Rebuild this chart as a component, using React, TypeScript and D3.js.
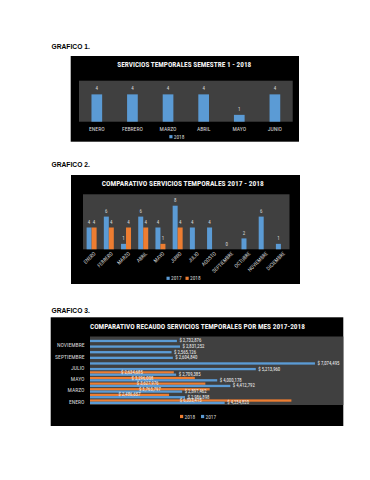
import React from 'react';
import * as d3 from 'd3';

const MONTHS = ['ENERO', 'FEBRERO', 'MARZO', 'ABRIL', 'MAYO', 'JUNIO', 'JULIO', 'AGOSTO', 'SEPTIEMBRE', 'OCTUBRE', 'NOVIEMBRE', 'DICIEMBRE'];
const SEMESTER_MONTHS = ['ENERO', 'FEBRERO', 'MARZO', 'ABRIL', 'MAYO', 'JUNIO'];

// grafico 1
const SEMESTER_2018 = [4, 4, 4, 4, 1, 4];

// grafico 2
const SERVICES_2017 = [4, 6, 1, 6, 4, 8, 4, 4, 0, 2, 6, 1];
const SERVICES_2018 = [4, 4, 4, 4, 1, 4, null, null, null, null, null, null];

// grafico 3
const RECAUDO_2017 = [4234820, 2986898, 2897462, 4412792, 4000178, 2709385, 5213960, 7074495, 2604840, 2565126, 2831252, 2732876];
const RECAUDO_2018 = [6333415, 2486657, 3763797, 3627976, 3296008, 2634685, null, null, null, null, null, null];

const BLUE = '#5b9bd5';
const ORANGE = '#ed7d31';
const PLOT_BG = '#404040';
const TEXT = '#d9d9d9';
const FONT = "'Liberation Sans Narrow', 'Roboto Condensed', Roboto, sans-serif";
const HEAD_FONT = "'Liberation Sans', Arial, sans-serif";

function Header({ y, label }: { y: number; label: string }) {
  return (
    <text x={51.5} y={y} fontFamily={HEAD_FONT} fontWeight="bold" fontSize={6.7} fill="#000">
      {label}
    </text>
  );
}

function Title({ x, y, width, label }: { x: number; y: number; width: number; label: string }) {
  return (
    <text x={x} y={y} textAnchor="middle" dominantBaseline="central" fontFamily={FONT} fontWeight="bold"
      fontSize={6.4} fill="#f2f2f2" textLength={width} lengthAdjust="spacingAndGlyphs">
      {label}
    </text>
  );
}

function LegendItem({ x, y, color, label }: { x: number; y: number; color: string; label: string }) {
  return (
    <g>
      <rect x={x} y={y - 1.6} width={3.2} height={3.2} fill={color} />
      <text x={x + 4.5} y={y} dominantBaseline="central" fontFamily={FONT} fontSize={5.4} fill={TEXT}>{label}</text>
    </g>
  );
}

function Chart1() {
  const x = d3.scaleBand<string>().domain(SEMESTER_MONTHS).range([79, 292.7]).paddingInner(0.7).paddingOuter(0.35);
  const y = d3.scaleLinear().domain([0, 6]).range([121.7, 80.7]);
  return (
    <g>
      <rect x={70.7} y={56} width={228.3} height={85.7} fill="#000" />
      <Title x={184.3} y={65} width={134} label="SERVICIOS TEMPORALES  SEMESTRE 1 - 2018" />
      <rect x={79} y={80.7} width={213.7} height={41} fill={PLOT_BG} />
      {SEMESTER_MONTHS.map((m, i) => (
        <g key={m}>
          <rect x={x(m)} y={y(SEMESTER_2018[i])} width={x.bandwidth()} height={y(0) - y(SEMESTER_2018[i])} fill={BLUE} />
          <text x={x(m)! + x.bandwidth() / 2} y={y(SEMESTER_2018[i]) - 4} textAnchor="middle" fontFamily={FONT}
            fontSize={5} fill={TEXT}>{SEMESTER_2018[i]}</text>
          <text x={x(m)! + x.bandwidth() / 2} y={129.3} textAnchor="middle" dominantBaseline="central"
            fontFamily={FONT} fontSize={5.7} fill={TEXT}>{m}</text>
        </g>
      ))}
      <LegendItem x={169.3} y={136.7} color={BLUE} label="2018" />
    </g>
  );
}

function Chart2() {
  const x0 = d3.scaleBand<string>().domain(MONTHS).range([83, 289.5]).paddingInner(0.42).paddingOuter(0.21);
  const x1 = d3.scaleBand<string>().domain(['2017', '2018']).range([0, x0.bandwidth()]);
  const y = d3.scaleLinear().domain([0, 10]).range([249.3, 194.8]);
  const series = [
    { key: '2017', values: SERVICES_2017, color: BLUE },
    { key: '2018', values: SERVICES_2018, color: ORANGE },
  ];
  return (
    <g>
      <rect x={71} y={175} width={229} height={109} fill="#000" />
      <Title x={182.8} y={184.3} width={162} label="COMPARATIVO SERVICIOS TEMPORALES 2017 - 2018" />
      <rect x={83} y={194.3} width={206.5} height={55} fill={PLOT_BG} />
      {MONTHS.map((m, i) => (
        <g key={m}>
          {series.map((s) => {
            const v = s.values[i];
            if (v === null) return null;
            const bx = x0(m)! + x1(s.key)!;
            return (
              <g key={s.key}>
                <rect x={bx} y={y(v)} width={x1.bandwidth()} height={y(0) - y(v)} fill={s.color} />
                <text x={bx + x1.bandwidth() / 2} y={y(v) - 3.6} textAnchor="middle" fontFamily={FONT}
                  fontSize={5} fill={TEXT}>{v}</text>
              </g>
            );
          })}
          <text transform={`translate(${x0(m)! + x0.bandwidth() / 2 + 3},${252.5}) rotate(-45)`}
            textAnchor="end" dominantBaseline="central" fontFamily={FONT} fontSize={5.3} fill={TEXT}>{m}</text>
        </g>
      ))}
      <LegendItem x={166.5} y={278.3} color={BLUE} label="2017" />
      <LegendItem x={185.5} y={278.3} color={ORANGE} label="2018" />
    </g>
  );
}

function Chart3() {
  const money = (v: number) => '$ ' + d3.format(',')(v);
  const y0 = d3.scaleBand<string>().domain(MONTHS.slice().reverse()).range([337, 404.5]).paddingInner(0.18).paddingOuter(0.09);
  const y1 = d3.scaleBand<string>().domain(['2018', '2017']).range([0, y0.bandwidth()]);
  const x = d3.scaleLinear().domain([0, 8000000]).range([90, 344.4]);
  return (
    <g>
      <rect x={50.7} y={317.3} width={292.6} height={108.7} fill="#000" />
      <Title x={197.5} y={326.5} width={215} label="COMPARATIVO RECAUDO SERVICIOS TEMPORALES POR MES 2017-2018" />
      <rect x={90} y={336.5} width={253.3} height={68.5} fill={PLOT_BG} />
      {MONTHS.map((m, i) => {
        const v17 = RECAUDO_2017[i];
        const v18 = RECAUDO_2018[i];
        const yb = y0(m)! + y1('2017')!;
        const yo = y0(m)! + y1('2018')!;
        const h = y1.bandwidth();
        return (
          <g key={m}>
            {v18 !== null && (
              <rect x={x(0)} y={yo} width={x(v18) - x(0)} height={h} fill={ORANGE} />
            )}
            <rect x={x(0)} y={yb} width={x(v17) - x(0)} height={h} fill={BLUE} />
            {i % 2 === 0 && (
              <text x={84.5} y={y0(m)! + y0.bandwidth() / 2} textAnchor="end" dominantBaseline="central"
                fontFamily={FONT} fontSize={5.7} fill={TEXT}>{m}</text>
            )}
          </g>
        );
      })}
      {MONTHS.map((m, i) => {
        const v17 = RECAUDO_2017[i];
        const v18 = RECAUDO_2018[i];
        const h = y1.bandwidth();
        const yb = y0(m)! + y1('2017')! + h / 2;
        const yo = y0(m)! + y1('2018')! + h / 2;
        return (
          <g key={m} fontFamily={FONT} fontSize={4.8} fill="#f2f2f2">
            {v18 !== null && (
              <text x={(x(0) + x(v18)) / 2} y={yo} textAnchor="middle" dominantBaseline="central">{money(v18)}</text>
            )}
            <text x={x(v17) + 2.5} y={yb} dominantBaseline="central">{money(v17)}</text>
          </g>
        );
      })}
      <LegendItem x={180} y={416.5} color={ORANGE} label="2018" />
      <LegendItem x={201} y={416.5} color={BLUE} label="2017" />
    </g>
  );
}

export default function App() {
  return (
    <svg width={370} height={480} style={{ position: 'absolute', left: 0, top: 0, background: '#fff' }}>
      <Header y={48.5} label="GRAFICO 1." />
      <Chart1 />
      <Header y={166.5} label="GRAFICO 2." />
      <Chart2 />
      <Header y={312.5} label="GRAFICO 3." />
      <Chart3 />
    </svg>
  );
}
